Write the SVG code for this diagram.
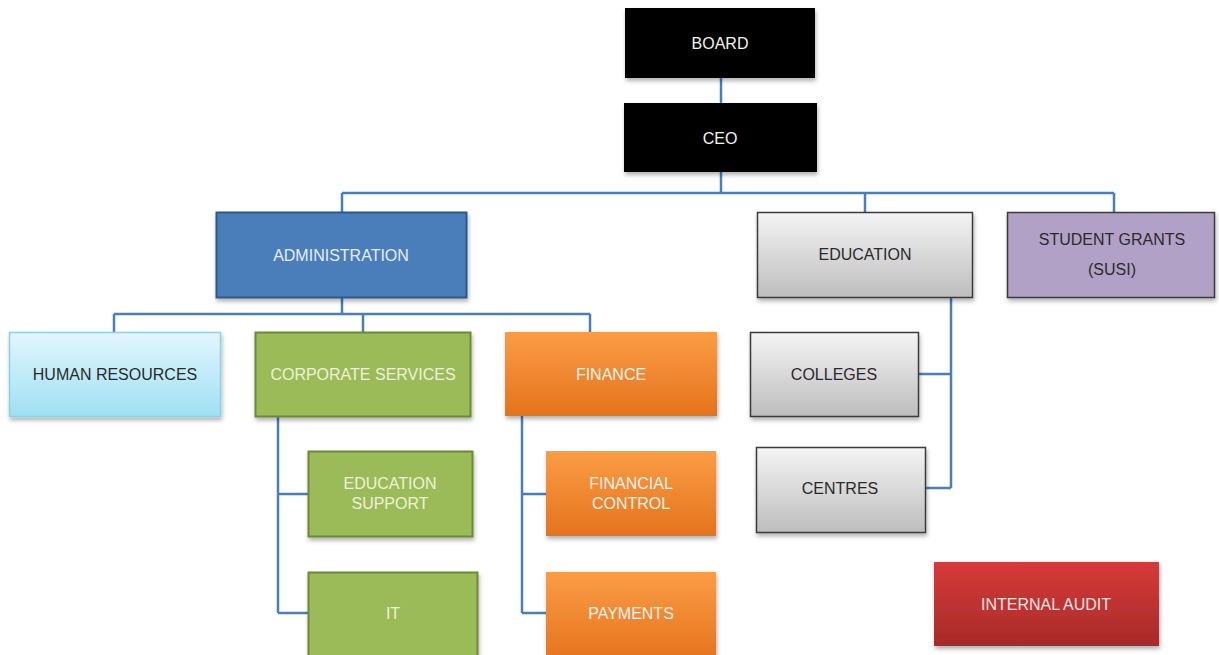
<svg xmlns="http://www.w3.org/2000/svg" width="1219" height="655" viewBox="0 0 1219 655">
<defs>
<linearGradient id="gGrey" x1="0" y1="0" x2="0" y2="1"><stop offset="0" stop-color="#f4f4f4"/><stop offset="1" stop-color="#bdbdbd"/></linearGradient>
<linearGradient id="gCyan" x1="0" y1="0" x2="0" y2="1"><stop offset="0" stop-color="#e2f6fc"/><stop offset="1" stop-color="#9fe0f4"/></linearGradient>
<linearGradient id="gOrange" x1="0" y1="0" x2="0" y2="1"><stop offset="0" stop-color="#fa9d45"/><stop offset="1" stop-color="#e5731c"/></linearGradient>
<linearGradient id="gRed" x1="0" y1="0" x2="0" y2="1"><stop offset="0" stop-color="#d63a38"/><stop offset="1" stop-color="#a82a2a"/></linearGradient>
<filter id="sh" x="-5%" y="-5%" width="115%" height="125%"><feDropShadow dx="1" dy="3" stdDeviation="2" flood-color="#000" flood-opacity="0.3"/></filter>
</defs>
<style>
text{font-family:"Liberation Sans",Arial,sans-serif;font-size:16px;text-anchor:middle;dominant-baseline:central}
.lt{fill:#f4f4ee}
.dk{fill:#2a2a2a}
.conn{fill:none;stroke:#4a7ebb;stroke-width:2.5}
.box{filter:url(#sh)}
</style>
<rect width="1219" height="655" fill="#ffffff"/>
<g id="connectors">
<path class="conn" d="M721 78V103"/>
<path class="conn" d="M721 172V193M342 193H1114M342 193V212M865 193V212M1114 193V212"/>
<path class="conn" d="M342 297V314M114 314H590M114 314V332M363 314V332M590 314V332"/>
<path class="conn" d="M278 416V613M278 494H308M278 613H308"/>
<path class="conn" d="M522 416V613M522 494H546M522 613H546"/>
<path class="conn" d="M951 297V488M919 374H951M926 488H951"/>
</g>
<g id="board"><rect class="box" x="625" y="8" width="190" height="70" fill="#000"/><text class="lt" x="720" y="43">BOARD</text></g>
<g id="ceo"><rect class="box" x="624" y="103" width="193" height="69" fill="#000"/><text class="lt" x="720" y="138">CEO</text></g>
<g id="administration"><rect class="box" x="216.5" y="212.5" width="250" height="85" fill="#4a7ebb" stroke="#2f5888" stroke-width="2"/><text x="341" y="255" fill="#e8eef8">ADMINISTRATION</text></g>
<g id="education"><rect class="box" x="757.5" y="212.5" width="215" height="85" fill="url(#gGrey)" stroke="#3a3a3a" stroke-width="1.5"/><text class="dk" x="865" y="254">EDUCATION</text></g>
<g id="student-grants"><rect class="box" x="1007.5" y="212.5" width="207" height="85" fill="#b2a1c7" stroke="#3a3a3a" stroke-width="1.5"/><text class="dk" x="1112" y="239">STUDENT GRANTS</text><text class="dk" x="1112" y="269">(SUSI)</text></g>
<g id="human-resources"><rect class="box" x="9.5" y="332.5" width="211" height="84" fill="url(#gCyan)" stroke="#8fcfe3" stroke-width="1.5"/><text class="dk" x="115" y="374">HUMAN RESOURCES</text></g>
<g id="corporate-services"><rect class="box" x="255.5" y="332.5" width="215" height="84" fill="#9bbb59" stroke="#6b8a35" stroke-width="2"/><text x="363" y="374" fill="#eef2d8">CORPORATE SERVICES</text></g>
<g id="finance"><rect class="box" x="505" y="332" width="212" height="84" fill="url(#gOrange)"/><text class="lt" x="611" y="374">FINANCE</text></g>
<g id="colleges"><rect class="box" x="750.5" y="332.5" width="168" height="84" fill="url(#gGrey)" stroke="#3a3a3a" stroke-width="1.5"/><text class="dk" x="834" y="374">COLLEGES</text></g>
<g id="centres"><rect class="box" x="756.5" y="447.5" width="169" height="85" fill="url(#gGrey)" stroke="#3a3a3a" stroke-width="1.5"/><text class="dk" x="840" y="488">CENTRES</text></g>
<g id="education-support"><rect class="box" x="308.5" y="451.5" width="164" height="85" fill="#9bbb59" stroke="#6b8a35" stroke-width="2"/><text x="390" y="483" fill="#eef2d8">EDUCATION</text><text x="390" y="503" fill="#eef2d8">SUPPORT</text></g>
<g id="it"><rect class="box" x="308.5" y="572.5" width="169" height="90" fill="#9bbb59" stroke="#6b8a35" stroke-width="2"/><text x="393" y="613" fill="#eef2d8">IT</text></g>
<g id="financial-control"><rect class="box" x="546" y="451" width="170" height="85" fill="url(#gOrange)"/><text class="lt" x="631" y="483">FINANCIAL</text><text class="lt" x="631" y="503">CONTROL</text></g>
<g id="payments"><rect class="box" x="546" y="572" width="170" height="90" fill="url(#gOrange)"/><text class="lt" x="631" y="613">PAYMENTS</text></g>
<g id="internal-audit"><rect class="box" x="934" y="562" width="225" height="84" fill="url(#gRed)"/><text x="1046" y="604" fill="#f6e6e6">INTERNAL AUDIT</text></g>
</svg>
